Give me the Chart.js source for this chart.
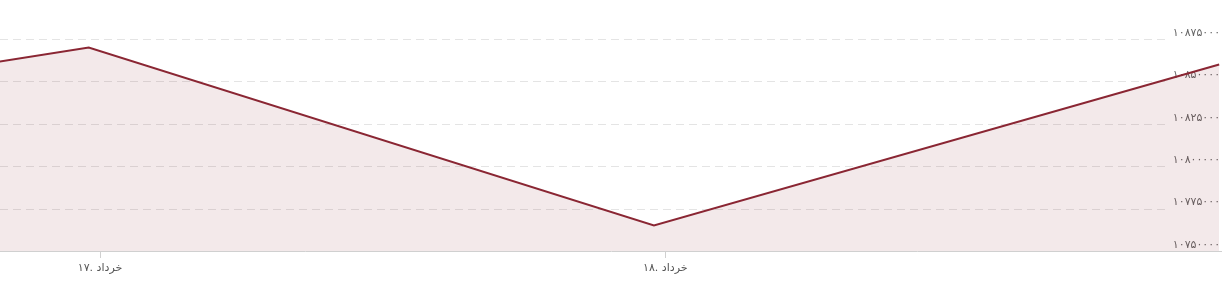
<!DOCTYPE html>
<html>
<head>
<meta charset="utf-8">
<script src="https://cdn.jsdelivr.net/npm/chart.js@4/dist/chart.umd.min.js"></script>
<style>
  html, body { margin: 0; padding: 0; background: #fff; }
  #wrap { width: 1222px; height: 282px; position: relative; }
</style>
</head>
<body>
<div id="wrap"><canvas id="c" width="1222" height="282"></canvas></div>
<script>
// Time positions in days of the month Khordad (fractional days)
const pointDays = [15.98, 16.98, 17.98, 18.98];
// Series values
const seriesValues = [108170000, 108700000, 107650000, 108600000];
// Axis ranges / ticks
const xMinDay = 16.823;
const xMaxDay = 18.985;
const yMin = 107500000;
const yMax = 108980000;
const yTickValues = [107500000, 107750000, 108000000, 108250000, 108500000, 108750000];
const monthName = 'خرداد';

const faDigits = ['۰','۱','۲','۳','۴','۵','۶','۷','۸','۹'];
function toFa(s) { return String(s).replace(/[0-9]/g, d => faDigits[+d]); }

const FONT = '"DejaVu Sans", "Noto Sans", sans-serif';

const shortGrid = {
  id: 'shortGrid',
  beforeDatasetsDraw(chart) {
    const { ctx, chartArea } = chart;
    const ys = chart.scales.y;
    ctx.save();
    ctx.strokeStyle = '#e4e4e4';
    ctx.lineWidth = 1;
    ctx.setLineDash([8, 5]);
    yTickValues.forEach(v => {
      if (v === yMin) return;
      const y = Math.round(ys.getPixelForValue(v)) + 0.5;
      ctx.beginPath();
      ctx.moveTo(chartArea.left, y);
      ctx.lineTo(chartArea.right - 57, y);
      ctx.stroke();
    });
    ctx.restore();
  }
};

new Chart(document.getElementById('c'), {
  type: 'line',
  data: {
    datasets: [{
      data: pointDays.map((d, i) => ({ x: d, y: seriesValues[i] })),
      borderColor: '#8a2633',
      backgroundColor: 'rgba(140,35,50,0.1)',
      borderWidth: 2,
      fill: 'start',
      tension: 0,
      pointRadius: 0,
      pointHoverRadius: 0
    }]
  },
  options: {
    responsive: false,
    animation: false,
    layout: { padding: { top: 0, left: 0, right: 0, bottom: 0 } },
    plugins: { legend: { display: false }, tooltip: { enabled: false } },
    scales: {
      x: {
        type: 'linear',
        min: xMinDay,
        max: xMaxDay,
        afterFit: s => { s.height = 31; s.paddingLeft = 0; s.paddingRight = 0; },
        afterBuildTicks: s => { s.ticks = s.ticks.filter(t => Number.isInteger(t.value)); },
        ticks: {
          stepSize: 1,
          autoSkip: false,
          maxRotation: 0,
          padding: 4,
          color: '#555',
          font: { family: FONT, size: 11 },
          callback: v => toFa(v) + '. ' + monthName
        },
        grid: { drawOnChartArea: false, tickLength: 7, color: '#d0d0d0' },
        border: { display: true, color: '#d0d0d0', width: 1 }
      },
      y: {
        position: 'right',
        min: yMin,
        max: yMax,
        afterFit: s => { s.width = 0; s.paddingTop = 0; s.paddingBottom = 0; },
        afterBuildTicks: s => { s.ticks = yTickValues.map(v => ({ value: v })); },
        ticks: {
          autoSkip: false,
          mirror: true,
          padding: 4,
          labelOffset: -6,
          color: '#666',
          font: { family: FONT, size: 11 },
          callback: v => toFa(v)
        },
        grid: { display: false },
        border: { display: false }
      }
    }
  },
  plugins: [shortGrid]
});
</script>
</body>
</html>
